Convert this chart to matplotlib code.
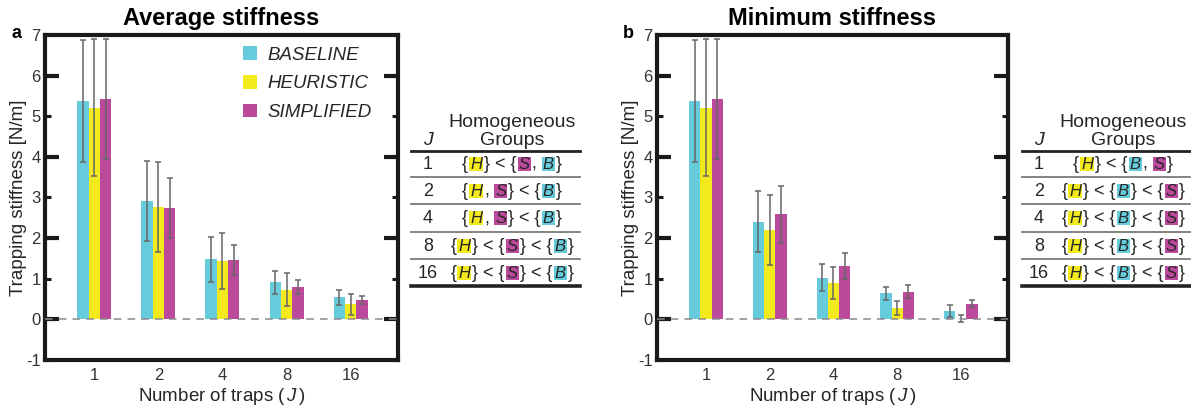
import numpy as np
import matplotlib
matplotlib.use("Agg")
import matplotlib.pyplot as plt
from matplotlib.lines import Line2D
from matplotlib.patches import Rectangle

plt.rcParams["font.family"] = ["Liberation Sans", "DejaVu Sans"]
plt.rcParams["mathtext.fontset"] = "custom"
plt.rcParams["mathtext.rm"] = "Liberation Sans"
plt.rcParams["mathtext.it"] = "Liberation Sans:italic"
plt.rcParams["axes.unicode_minus"] = False

# data
traps = ["1", "2", "4", "8", "16"]
series = ["BASELINE", "HEURISTIC", "SIMPLIFIED"]

avg_baseline = [5.37, 2.92, 1.48, 0.91, 0.54]
avg_baseline_err = [1.50, 0.98, 0.56, 0.29, 0.19]
avg_heuristic = [5.21, 2.77, 1.44, 0.73, 0.37]
avg_heuristic_err = [1.68, 1.10, 0.69, 0.40, 0.26]
avg_simplified = [5.42, 2.75, 1.46, 0.80, 0.48]
avg_simplified_err = [1.48, 0.74, 0.36, 0.18, 0.10]

min_baseline = [5.37, 2.40, 1.03, 0.64, 0.20]
min_baseline_err = [1.50, 0.75, 0.33, 0.16, 0.15]
min_heuristic = [5.21, 2.21, 0.89, 0.28, 0.02]
min_heuristic_err = [1.68, 0.86, 0.40, 0.18, 0.09]
min_simplified = [5.42, 2.59, 1.31, 0.68, 0.39]
min_simplified_err = [1.48, 0.70, 0.32, 0.16, 0.09]

avg_groups = ["{H} < {S, B}", "{H, S} < {B}", "{H, S} < {B}",
              "{H} < {S} < {B}", "{H} < {S} < {B}"]
min_groups = ["{H} < {B, S}", "{H} < {B} < {S}", "{H} < {B} < {S}",
              "{H} < {B} < {S}", "{H} < {B} < {S}"]

colors = {"B": "#66CBDB", "H": "#F2EA1D", "S": "#BB4A9C"}
bar_colors = [colors["B"], colors["H"], colors["S"]]
ink = "#262626"

W, H = 1191, 409
fig = plt.figure(figsize=(W / 100, H / 100), dpi=100)


def fx(px):
    return px / W


def fy(py):
    return 1 - py / H


def draw_panel(ax, title, vals, errs, legend=False):
    x = np.arange(1, len(traps) + 1)
    w = 0.177
    for k, (v, e) in enumerate(zip(vals, errs)):
        xs = x + (k - 1) * w
        ax.bar(xs, v, w, color=bar_colors[k], label=series[k], zorder=2)
        ax.errorbar(xs, v, yerr=e, fmt="none", ecolor="#666666", elinewidth=1.1,
                    capsize=2, capthick=1.1, zorder=3)
    ax.axhline(0, color="#8a8a8a", lw=1.1, ls=(0, (5, 4)), zorder=4)
    ax.set_xlim(0.23, 5.74)
    ax.set_ylim(-1, 7)
    ax.set_xticks(x, traps)
    ax.set_yticks(np.arange(-1, 8))
    ax.set_yticks(np.arange(0, 8, 2), minor=True)
    ax.yaxis.remove_overlapping_locs = False
    ax.tick_params(axis="x", length=0, pad=6, labelsize=12, labelcolor="#333333")
    ax.tick_params(axis="y", which="both", direction="in", left=True, right=True,
                   labelsize=12, labelcolor="#333333", pad=3, color="#1a1a1a")
    ax.tick_params(axis="y", which="major", length=4, width=2.2)
    ax.tick_params(axis="y", which="minor", length=10, width=3)
    for sp in ax.spines.values():
        sp.set_linewidth(3)
        sp.set_color("#1a1a1a")
    ax.set_title(title, fontsize=17, fontweight="bold", pad=7)
    ax.set_ylabel("Trapping stiffness [N/m]", fontsize=13.5, color=ink)
    ax.yaxis.set_label_coords(-0.05, 0.5)
    ax.set_xlabel(r"Number of traps ($\,J\,$)", fontsize=13.5, color=ink, labelpad=2)
    if legend:
        ax.legend(loc="upper left", bbox_to_anchor=(0.561, 0.965), frameon=False,
                  prop={"style": "italic", "size": 13.5}, labelcolor=ink,
                  handlelength=0.75, handleheight=0.75, handletextpad=0.55,
                  labelspacing=0.6, borderpad=0, borderaxespad=0)


ax1 = fig.add_axes([fx(45), fy(360), fx(353), 325 / H])
ax2 = fig.add_axes([fx(657), fy(360), fx(351), 325 / H])

draw_panel(ax1, "Average stiffness",
           [avg_baseline, avg_heuristic, avg_simplified],
           [avg_baseline_err, avg_heuristic_err, avg_simplified_err], legend=True)
draw_panel(ax2, "Minimum stiffness",
           [min_baseline, min_heuristic, min_simplified],
           [min_baseline_err, min_heuristic_err, min_simplified_err])

fig.text(fx(16), fy(33), "a", fontsize=13, fontweight="bold", ha="center", va="center")
fig.text(fx(628), fy(33), "b", fontsize=13, fontweight="bold", ha="center", va="center")


def make_pieces(s):
    pieces = []
    buf = ""
    for ch in s:
        if ch in "HSB":
            if buf:
                pieces.append((buf, None))
                buf = ""
            pieces.append((ch, ch))
        else:
            buf += ch
    if buf:
        pieces.append((buf, None))
    return pieces


row_items = []


def draw_table(x0, x1, jx, gx, groups):
    fs = 13
    fig.text(fx(jx), fy(145), "J", fontsize=14, style="italic", ha="center",
             va="baseline", color=ink)
    fig.text(fx(gx), fy(127), "Homogeneous", fontsize=14, ha="center", va="baseline", color=ink)
    fig.text(fx(gx), fy(145), "Groups", fontsize=14, ha="center", va="baseline", color=ink)
    fig.add_artist(Line2D([fx(x0), fx(x1)], [fy(151)] * 2, color="#222222", lw=2))
    for yy in (177, 204, 232, 259):
        fig.add_artist(Line2D([fx(x0), fx(x1)], [fy(yy)] * 2, color="#7a7a7a", lw=1.3))
    fig.add_artist(Line2D([fx(x0), fx(x1)], [fy(286)] * 2, color="#222222", lw=2.6))
    for yc, lab, g in zip((163, 190, 217, 245, 272), traps, groups):
        base = yc + 6
        fig.text(fx(jx), fy(base), lab, fontsize=fs, ha="center", va="baseline", color=ink)
        items = []
        for txt, box in make_pieces(g):
            gap = 0
            if box is None and txt.endswith(" "):
                txt = txt.rstrip()
                gap = 4
            t = fig.text(0, fy(base), txt, fontsize=12 if box else fs,
                         style="italic" if box else "normal",
                         ha="left", va="baseline", color=ink, zorder=3)
            items.append((t, box, gap))
        row_items.append((gx, base, items))


draw_table(411, 580, 428, 512, avg_groups)
draw_table(1022, 1190, 1039, 1123, min_groups)

# lay out the inline group rows once text sizes are known
fig.canvas.draw()
renderer = fig.canvas.get_renderer()
for gx, base, items in row_items:
    widths = [t.get_window_extent(renderer).width for t, _, _ in items]
    gaps = []
    for i, (t, box, gap) in enumerate(items[:-1]):
        nxt_box = items[i + 1][1]
        gaps.append(gap + (2 if (box or nxt_box) else 0))
    total = sum(widths) + sum(gaps)
    x = gx - total / 2
    for i, ((t, box, _), wd) in enumerate(zip(items, widths)):
        t.set_x(fx(x))
        if box:
            fig.add_artist(Rectangle((fx(x - 1), fy(base + 2)), (wd + 2) / W, 14 / H,
                                     transform=fig.transFigure, fc=colors[box],
                                     ec="none", zorder=1))
        x += wd + (gaps[i] if i < len(gaps) else 0)

fig.savefig("out.png", dpi=100)
